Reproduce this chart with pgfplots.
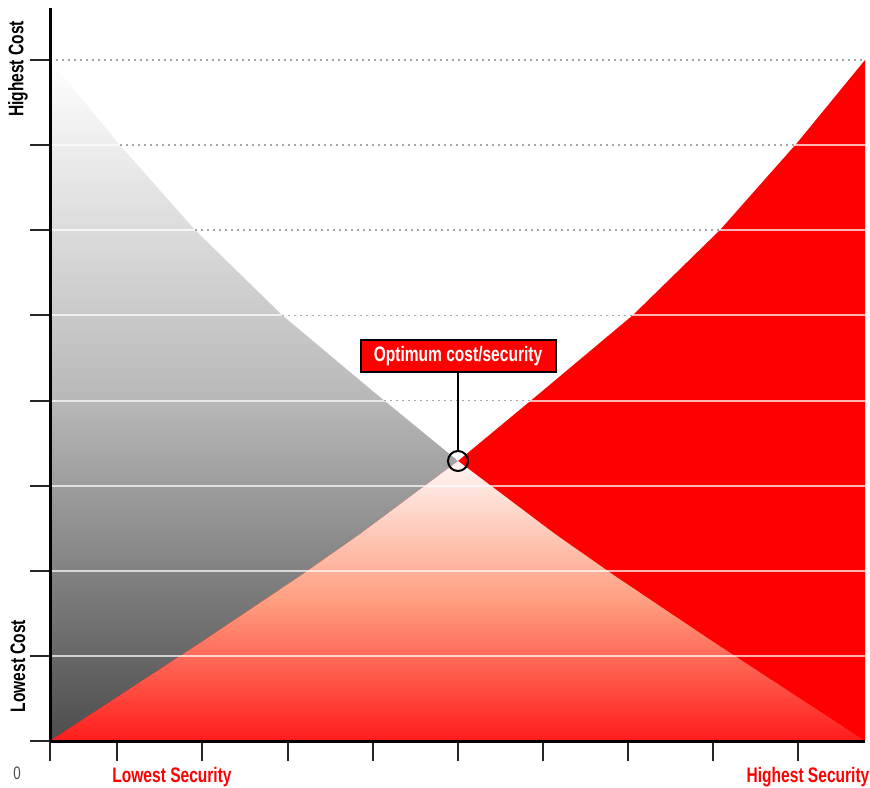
\documentclass[border=0pt]{standalone}
\usepackage{fontspec}
\usepackage{pgfplots}
\pgfplotsset{compat=1.18}
\newfontfamily\cond[FakeStretch=0.74]{Liberation Sans}
\definecolor{pureRed}{RGB}{255,0,0}
\definecolor{pinkTop}{RGB}{255,246,244}
\definecolor{salmon}{RGB}{255,158,128}
\definecolor{redBot}{RGB}{255,28,28}
\newcommand\lab{\cond\bfseries\fontsize{10.5}{12}\selectfont}

\begin{document}
\begin{tikzpicture}
\useasboundingbox (-25pt,-23pt) rectangle (410pt,370.5pt);
\begin{axis}[
    scale only axis,
    width=407.5pt, height=366.5pt,
    xmin=0, xmax=815, ymin=0, ymax=733,
    axis lines=left,
    axis on top,
    axis line style={-, line width=1.5pt, black},
    xtick={0,67,152,238,323,408,493,578,663,748},
    ytick={0,85.125,170.25,255.375,340.5,425.625,510.75,595.875,681},
    xticklabels={}, yticklabels={},
    tick align=outside,
    major tick length=10pt,
    tick style={black!85, line width=1pt},
    clip=false,
]
% cost of insecurity (falling), cost of security (rising)
\addplot[draw=none, top color=white, bottom color=black!70, middle color=black!28]
  coordinates {(0,681) (68,598) (145,511) (232,426) (325,348) (408,280) (505,207) (565,165) (665,98) (740,49) (815,0)} \closedcycle;
\addplot[draw=none, fill=pureRed]
  coordinates {(0,0) (75,49) (150,98) (250,165) (310,207) (408,280) (490,348) (583,426) (670,511) (747,598) (815,681)} \closedcycle;
% overlap under both curves
\addplot[draw=none, top color=pinkTop, bottom color=redBot, middle color=salmon]
  coordinates {(0,0) (75,49) (150,98) (250,165) (310,207) (408,280) (505,207) (565,165) (665,98) (740,49) (815,0)} \closedcycle;

% grid lines over the filled areas
\pgfplotsinvokeforeach{85.125,170.25,255.375,340.5,425.625,510.75,595.875}{
  \addplot[white, opacity=0.7, line width=1pt] coordinates {(0,#1) (815,#1)};
}
% dotted grid lines on the white area
\addplot[black!35, line width=0.8pt, dash pattern=on 1pt off 2pt] coordinates {(334,340.5) (481,340.5)};
\addplot[black!35, line width=0.8pt, dash pattern=on 1pt off 2pt] coordinates {(232,425.625) (583,425.625)};
\addplot[black!35, line width=0.8pt, dash pattern=on 1pt off 2pt] coordinates {(145,510.75) (670,510.75)};
\addplot[black!35, line width=0.8pt, dash pattern=on 1pt off 2pt] coordinates {(70,595.875) (745,595.875)};
\addplot[black!35, line width=0.8pt, dash pattern=on 1pt off 2pt] coordinates {(0,681) (815,681)};

% optimum point
\addplot[black, line width=0.8pt] coordinates {(408,290) (408,369)};
\addplot[only marks, mark=o, mark size=5pt, mark options={black, line width=1pt}] coordinates {(408,280)};
\node[fill=pureRed, draw=black, line width=1pt, text=white, font=\lab,
      minimum width=97.5pt, minimum height=16pt, inner sep=0pt]
  at (axis cs:408,385) {Optimum cost/security};

% labels
\node[rotate=90, font=\lab] at (axis cs:-32,672) {Highest Cost};
\node[rotate=90, font=\lab] at (axis cs:-32,75) {Lowest Cost};
\node[anchor=base, font=\lab, text=pureRed] at (axis cs:122,-41) {Lowest Security};
\node[anchor=base, font=\lab, text=pureRed] at (axis cs:758,-41) {Highest Security};
\node[anchor=base, font=\cond\fontsize{9}{10}\selectfont, text=black!70] at (axis cs:-33,-38) {0};
\end{axis}
\end{tikzpicture}
\end{document}
